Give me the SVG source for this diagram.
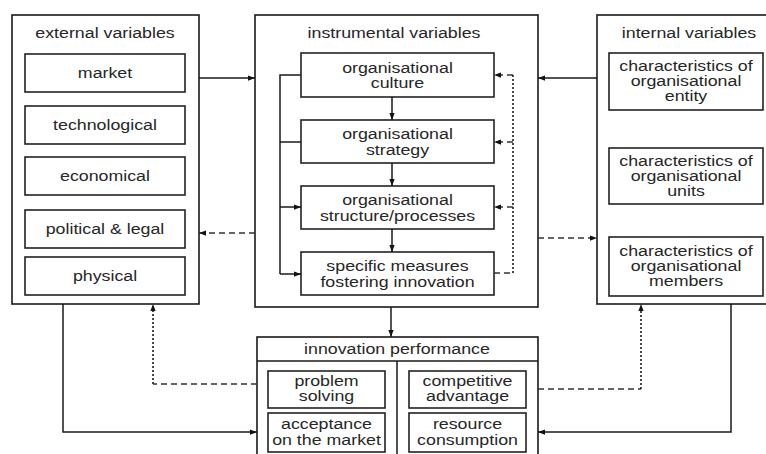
<svg xmlns="http://www.w3.org/2000/svg" width="766" height="454" viewBox="0 0 766 454">
<defs>
<style>
.box{fill:#fff;stroke:#1a1a1a;stroke-width:1.6}
.ibox{fill:#fff;stroke:#222;stroke-width:1.6}
.t{font-family:"Liberation Sans",Arial,Helvetica,sans-serif;font-size:14px;fill:#262626;text-anchor:middle}
.c{fill:none;stroke:#1a1a1a;stroke-width:1.5}
.dash{fill:none;stroke:#333;stroke-width:1.5;stroke-dasharray:6 4}
.dot{fill:none;stroke:#333;stroke-width:1.8;stroke-dasharray:2 2}
</style>
<marker id="ah" viewBox="0 0 8 8" refX="8" refY="4" markerWidth="7" markerHeight="7" orient="auto" markerUnits="userSpaceOnUse">
<path d="M0,1 L8,4 L0,7 z" fill="#111"/>
</marker>
</defs>
<rect width="766" height="454" fill="#fff"/>

<g id="external">
<rect class="box" x="12" y="15" width="187" height="289"/>
<text class="t" transform="translate(105 0) scale(1.27 1)"><tspan x="0" y="38">external variables</tspan></text>
<g id="market"><rect class="ibox" x="25" y="54" width="160" height="38"/>
<text class="t" transform="translate(105 0) scale(1.27 1)"><tspan x="0" y="78">market</tspan></text></g>
<g id="technological"><rect class="ibox" x="25" y="106" width="160" height="38"/>
<text class="t" transform="translate(105 0) scale(1.27 1)"><tspan x="0" y="130">technological</tspan></text></g>
<g id="economical"><rect class="ibox" x="25" y="157" width="160" height="38"/>
<text class="t" transform="translate(105 0) scale(1.27 1)"><tspan x="0" y="181">economical</tspan></text></g>
<g id="political"><rect class="ibox" x="25" y="210" width="160" height="38"/>
<text class="t" transform="translate(105 0) scale(1.27 1)"><tspan x="0" y="234">political &amp; legal</tspan></text></g>
<g id="physical"><rect class="ibox" x="25" y="257" width="160" height="38"/>
<text class="t" transform="translate(105 0) scale(1.27 1)"><tspan x="0" y="281">physical</tspan></text></g>
</g>

<g id="instrumental">
<rect class="box" x="255" y="15" width="283" height="292"/>
<text class="t" transform="translate(394 0) scale(1.27 1)"><tspan x="0" y="38">instrumental variables</tspan></text>
<g id="culture"><rect class="ibox" x="301" y="53" width="193" height="44"/>
<text class="t" transform="translate(397.5 0) scale(1.27 1)"><tspan x="0" y="73">organisational</tspan><tspan x="0" y="88">culture</tspan></text></g>
<g id="strategy"><rect class="ibox" x="301" y="120" width="193" height="43"/>
<text class="t" transform="translate(397.5 0) scale(1.27 1)"><tspan x="0" y="139">organisational</tspan><tspan x="0" y="155">strategy</tspan></text></g>
<g id="structure"><rect class="ibox" x="301" y="186" width="193" height="43"/>
<text class="t" transform="translate(397.5 0) scale(1.27 1)"><tspan x="0" y="205">organisational</tspan><tspan x="0" y="221">structure/processes</tspan></text></g>
<g id="measures"><rect class="ibox" x="301" y="252" width="193" height="43"/>
<text class="t" transform="translate(397.5 0) scale(1.27 1)"><tspan x="0" y="271">specific measures</tspan><tspan x="0" y="287">fostering innovation</tspan></text></g>
</g>

<g id="internal">
<rect class="box" x="597" y="15" width="175" height="289"/>
<text class="t" transform="translate(689 0) scale(1.27 1)"><tspan x="0" y="38">internal variables</tspan></text>
<g id="entity"><rect class="ibox" x="609" y="53" width="154" height="57"/>
<text class="t" transform="translate(686 0) scale(1.27 1)"><tspan x="0" y="71">characteristics of</tspan><tspan x="0" y="86">organisational</tspan><tspan x="0" y="101">entity</tspan></text></g>
<g id="units"><rect class="ibox" x="609" y="148" width="154" height="56"/>
<text class="t" transform="translate(686 0) scale(1.27 1)"><tspan x="0" y="166">characteristics of</tspan><tspan x="0" y="181">organisational</tspan><tspan x="0" y="196">units</tspan></text></g>
<g id="members"><rect class="ibox" x="609" y="237" width="154" height="59"/>
<text class="t" transform="translate(686 0) scale(1.27 1)"><tspan x="0" y="256">characteristics of</tspan><tspan x="0" y="271">organisational</tspan><tspan x="0" y="286">members</tspan></text></g>
</g>

<g id="performance">
<rect class="box" x="257" y="337" width="281" height="130"/>
<line class="c" x1="257" y1="361" x2="538" y2="361"/>
<line class="c" x1="397" y1="361" x2="397" y2="460"/>
<text class="t" transform="translate(397 0) scale(1.27 1)"><tspan x="0" y="354">innovation performance</tspan></text>
<g id="problem"><rect class="ibox" x="268" y="371" width="117" height="37"/>
<text class="t" transform="translate(326.5 0) scale(1.27 1)"><tspan x="0" y="386">problem</tspan><tspan x="0" y="401">solving</tspan></text></g>
<g id="acceptance"><rect class="ibox" x="268" y="413" width="117" height="39"/>
<text class="t" transform="translate(326.5 0) scale(1.27 1)"><tspan x="0" y="429">acceptance</tspan><tspan x="0" y="445">on the market</tspan></text></g>
<g id="competitive"><rect class="ibox" x="409" y="371" width="117" height="37"/>
<text class="t" transform="translate(467.5 0) scale(1.27 1)"><tspan x="0" y="386">competitive</tspan><tspan x="0" y="401">advantage</tspan></text></g>
<g id="resource"><rect class="ibox" x="409" y="413" width="117" height="39"/>
<text class="t" transform="translate(467.5 0) scale(1.27 1)"><tspan x="0" y="429">resource</tspan><tspan x="0" y="445">consumption</tspan></text></g>
</g>

<g id="connectors">
<path class="c" d="M199,78 H255" marker-end="url(#ah)"/>
<path class="c" d="M597,78 H538" marker-end="url(#ah)"/>
<path class="dash" d="M255,233 H199" marker-end="url(#ah)"/>
<path class="dash" d="M538,238 H597" marker-end="url(#ah)"/>
<path class="c" d="M392,97 V120" marker-end="url(#ah)"/>
<path class="c" d="M392,163 V186" marker-end="url(#ah)"/>
<path class="c" d="M392,229 V252" marker-end="url(#ah)"/>
<path class="c" d="M301,75 H280 V274"/>
<path class="c" d="M280,142 H301"/>
<path class="c" d="M280,207 H301" marker-end="url(#ah)"/>
<path class="c" d="M280,274 H301" marker-end="url(#ah)"/>
<path class="dash" d="M494,273 H513"/>
<path class="dot" d="M513,273 V75"/>
<path class="dash" d="M513,75 H494" marker-end="url(#ah)"/>
<path class="dash" d="M513,142 H494" marker-end="url(#ah)"/>
<path class="dash" d="M513,207 H494" marker-end="url(#ah)"/>
<path class="c" d="M391,307 V337" marker-end="url(#ah)"/>
<path class="c" d="M63,304 V432 H257" marker-end="url(#ah)"/>
<path class="dash" d="M257,384 H153"/>
<path class="dot" d="M153,384 V304" marker-end="url(#ah)"/>
<path class="dash" d="M538,389 H641"/>
<path class="dot" d="M641,389 V304" marker-end="url(#ah)"/>
<path class="c" d="M731,304 V432 H538" marker-end="url(#ah)"/>
</g>
</svg>
